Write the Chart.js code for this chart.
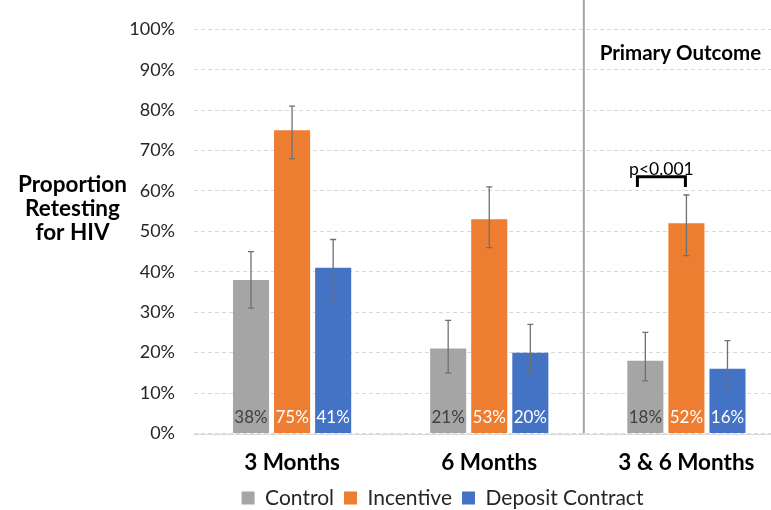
<!DOCTYPE html>
<html><head><meta charset="utf-8">
<script src="https://cdn.jsdelivr.net/npm/chart.js@4.4.1/dist/chart.umd.min.js"></script>
<style>
html,body{margin:0;padding:0;background:#fff;overflow:hidden;width:771px;height:510px;}
#wrap{position:absolute;left:0;top:0;width:785px;height:510px;}
canvas{display:block;}
</style></head><body>
<div id="wrap"><canvas id="c" width="785" height="510" style="width:785px;height:510px"></canvas></div>
<script>
// ---- data ----
const categories = ['3 Months', '6 Months', '3 & 6 Months'];
const seriesNames = ['Control', 'Incentive', 'Deposit Contract'];
const controlValues = [38, 21, 18];
const incentiveValues = [75, 53, 52];
const depositValues = [41, 20, 16];
const controlLow = [31, 15, 13];
const controlHigh = [45, 28, 25];
const incentiveLow = [68, 46, 44];
const incentiveHigh = [81, 61, 59];
const depositLow = [33, 15, 11];
const depositHigh = [48, 27, 23];
const yTicks = [0, 10, 20, 30, 40, 50, 60, 70, 80, 90, 100];
const yAxisTitle = ['Proportion', 'Retesting', 'for HIV'];
const sectionLabel = 'Primary Outcome';
const sectionLabelValue = 94;
const pLabel = 'p<0.001';
const pBracketValue = 63.5;
const pBracketLegValue = 61;
const pBracketCategory = 2;

const colors = ['#A5A5A5', '#ED7D31', '#4472C4'];
const labelColors = ['#404040', '#ffffff', '#ffffff'];
const FONT = 'Lato, "Open Sans", sans-serif';

const errorBars = [
  {low: controlLow, high: controlHigh},
  {low: incentiveLow, high: incentiveHigh},
  {low: depositLow, high: depositHigh}
];

const extras = {
  id: 'extras',
  beforeDatasetsDraw(chart) {
    const {ctx, scales: {x, y}, chartArea} = chart;
    ctx.save();
    ctx.strokeStyle = '#d9d9d9';
    ctx.lineWidth = 1;
    ctx.beginPath();
    const y0 = Math.round(y.getPixelForValue(0)) + 0.5;
    ctx.moveTo(chartArea.left, y0);
    ctx.lineTo(chartArea.right, y0);
    ctx.stroke();
    ctx.restore();
  },
  afterDatasetsDraw(chart) {
    const {ctx, scales: {x, y}} = chart;
    ctx.save();
    ctx.strokeStyle = '#707070';
    ctx.lineWidth = 1.3;
    errorBars.forEach((eb, i) => {
      const meta = chart.getDatasetMeta(i);
      meta.data.forEach((bar, j) => {
        const yt = y.getPixelForValue(eb.high[j]);
        const yb = y.getPixelForValue(eb.low[j]);
        ctx.beginPath();
        ctx.moveTo(bar.x, yt); ctx.lineTo(bar.x, yb);
        ctx.moveTo(bar.x - 3, yt); ctx.lineTo(bar.x + 3, yt);
        ctx.moveTo(bar.x - 3, yb); ctx.lineTo(bar.x + 3, yb);
        ctx.stroke();
      });
    });
    ctx.font = '17px ' + FONT;
    ctx.textAlign = 'center';
    ctx.textBaseline = 'middle';
    chart.data.datasets.forEach((ds, i) => {
      const meta = chart.getDatasetMeta(i);
      ctx.fillStyle = labelColors[i];
      meta.data.forEach((bar, j) => {
        ctx.fillText(ds.data[j] + '%', bar.x, y.getPixelForValue(0) - 15.5);
      });
    });
    ctx.restore();
  },
  afterDraw(chart) {
    const {ctx, scales: {x, y}} = chart;
    ctx.save();
    const sx = (x.getPixelForValue(1) + x.getPixelForValue(2)) / 2 - 4;
    ctx.strokeStyle = '#a6a6a6';
    ctx.lineWidth = 2;
    ctx.beginPath();
    ctx.moveTo(sx, 0);
    ctx.lineTo(sx, y.getPixelForValue(0));
    ctx.stroke();
    ctx.fillStyle = '#000';
    ctx.font = 'bold 20.5px ' + FONT;
    ctx.textAlign = 'center';
    ctx.textBaseline = 'middle';
    ctx.fillText(sectionLabel, x.getPixelForValue(2) - 6, y.getPixelForValue(sectionLabelValue));
    const gBar = chart.getDatasetMeta(0).data[pBracketCategory];
    const oBar = chart.getDatasetMeta(1).data[pBracketCategory];
    const bl = gBar.x - gBar.width * 0.22;
    const br = oBar.x - 1;
    const by = y.getPixelForValue(pBracketValue);
    const ly = y.getPixelForValue(pBracketLegValue);
    ctx.strokeStyle = '#000';
    ctx.lineWidth = 3;
    ctx.lineJoin = 'miter';
    ctx.beginPath();
    ctx.moveTo(bl, ly); ctx.lineTo(bl, by); ctx.lineTo(br, by); ctx.lineTo(br, ly);
    ctx.stroke();
    ctx.font = '17.5px ' + FONT;
    ctx.textBaseline = 'alphabetic';
    ctx.fillText(pLabel, (bl + br) / 2, by - 2);
    ctx.font = 'bold 22.5px ' + FONT;
    ctx.textAlign = 'center';
    const tx = 72.5;
    yAxisTitle.forEach((t, k) => ctx.fillText(t, tx, 192 + k * 24));
    ctx.restore();
  }
};

new Chart(document.getElementById('c'), {
  type: 'bar',
  data: {
    labels: categories,
    datasets: [
      {label: seriesNames[0], data: controlValues, backgroundColor: colors[0]},
      {label: seriesNames[1], data: incentiveValues, backgroundColor: colors[1]},
      {label: seriesNames[2], data: depositValues, backgroundColor: colors[2]}
    ]
  },
  options: {
    responsive: false,
    animation: false,
    devicePixelRatio: 1,
    layout: {padding: {left: 100, right: 0, top: 22, bottom: 0}},
    datasets: {bar: {categoryPercentage: 0.625, barPercentage: 0.878}},
    plugins: {
      legend: {
        position: 'bottom',
        maxHeight: 32.5,
        labels: {boxWidth: 13, boxHeight: 13, padding: 10, color: '#262626',
                 font: {family: FONT, size: 21}}
      },
      tooltip: {enabled: false}
    },
    scales: {
      x: {
        grid: {display: false, drawTicks: false},
        border: {display: false},
        ticks: {padding: 16, color: '#000', font: {family: FONT, size: 22.5, weight: 'bold'}},
        afterFit(s) { s.height = 44; }
      },
      y: {
        min: 0, max: 100,
        afterBuildTicks(s) { s.ticks = yTicks.map(v => ({value: v})); },
        ticks: {padding: 18.5, color: '#262626', callback: v => v + '%',
                font: {family: FONT, size: 18}},
        grid: {color: '#d9d9d9', drawTicks: false, lineWidth: 1},
        border: {display: false, dash: [4, 3]},
        afterFit(s) { s.width = 93.5; }
      }
    }
  },
  plugins: [extras]
});
</script>
</body></html>
